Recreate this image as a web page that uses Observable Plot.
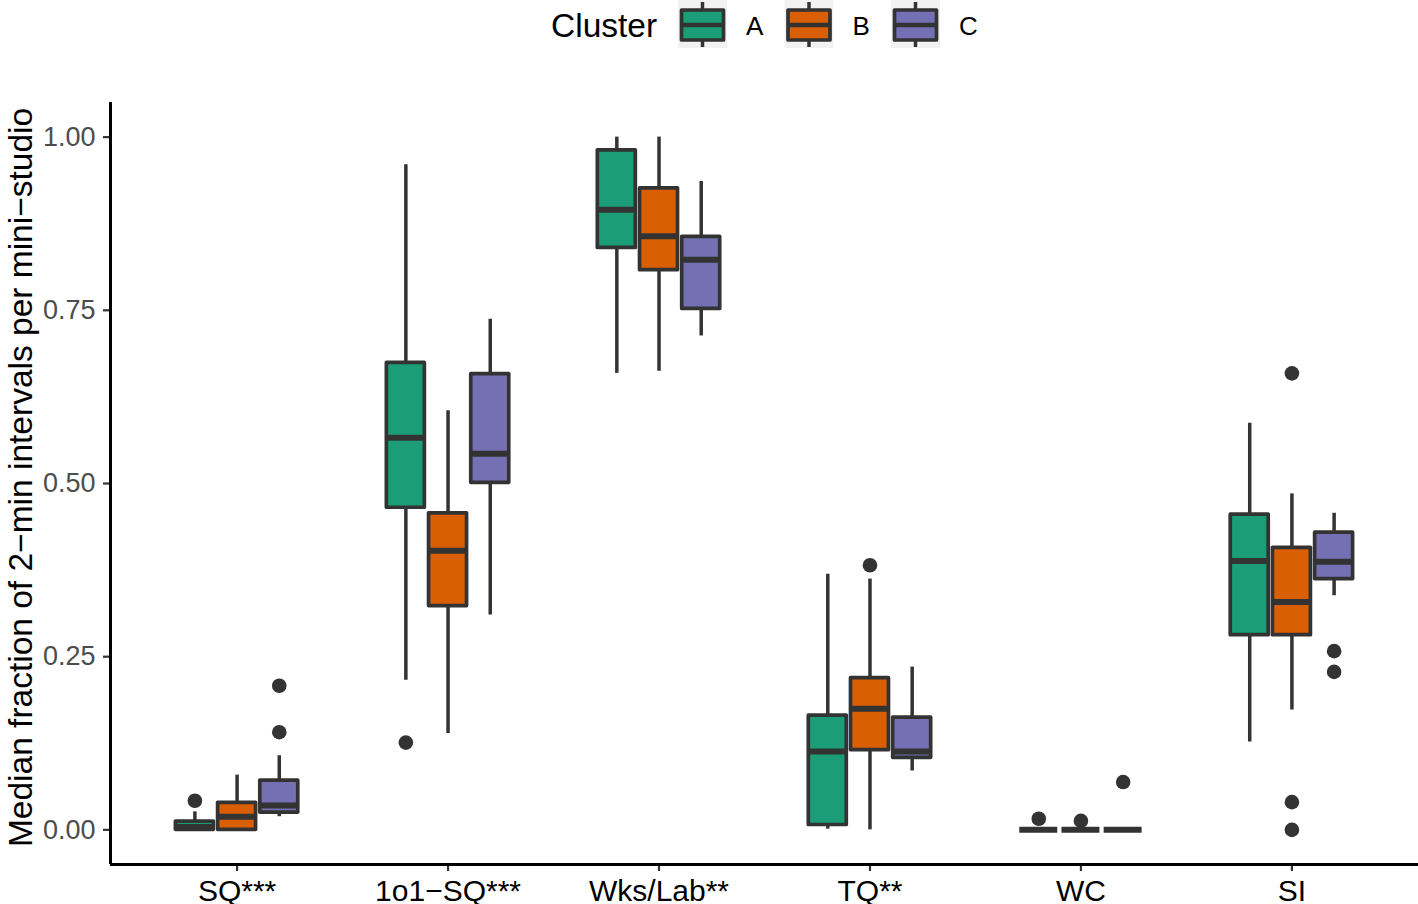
<!DOCTYPE html>
<html><head><meta charset="utf-8">
<script src="https://cdn.jsdelivr.net/npm/d3@7"></script>
<script src="https://cdn.jsdelivr.net/npm/@observablehq/plot@0.6"></script>
<style>
html,body{margin:0;padding:0;background:#fff;}
body{width:1418px;height:904px;overflow:hidden;font-family:"Liberation Sans",Arial,Helvetica,sans-serif;}
svg{display:block;}
</style></head><body>
<div id="legend"></div>
<div id="chart"></div>
<script>
// ---- data ----
const categories = ["SQ***", "1o1\u2212SQ***", "Wks/Lab**", "TQ**", "WC", "SI"];
const clusters = ["A", "B", "C"];
const clusterColors = ["#1B9E77", "#D95F02", "#7570B3"];
const yTicks = [0, 0.25, 0.5, 0.75, 1];

// rows: clusters A, B, C; columns: categories in order
const whiskerLow = [
  [0.000, 0.216, 0.659, 0.001, 0, 0.127],
  [0.000, 0.139, 0.662, 0.000, 0, 0.173],
  [0.019, 0.310, 0.713, 0.085, 0, 0.338]
];
const quartile1 = [
  [0.000, 0.465, 0.840, 0.007, 0, 0.281],
  [0.000, 0.323, 0.808, 0.115, 0, 0.281],
  [0.025, 0.501, 0.752, 0.104, 0, 0.362]
];
const medians = [
  [0.004, 0.566, 0.895, 0.113, 0, 0.388],
  [0.019, 0.403, 0.857, 0.175, 0, 0.329],
  [0.035, 0.543, 0.823, 0.113, 0, 0.387]
];
const quartile3 = [
  [0.012, 0.674, 0.981, 0.165, 0, 0.455],
  [0.039, 0.457, 0.926, 0.219, 0, 0.407],
  [0.071, 0.658, 0.856, 0.162, 0, 0.429]
];
const whiskerHigh = [
  [0.026, 0.960, 1.000, 0.369, 0, 0.587],
  [0.079, 0.605, 1.000, 0.362, 0, 0.485],
  [0.107, 0.737, 0.936, 0.235, 0, 0.457]
];
// outliers: [cluster, category, value]
const outliers = [
  ["A", "SQ***", 0.042], ["A", "1o1\u2212SQ***", 0.126], ["A", "WC", 0.016],
  ["B", "TQ**", 0.382], ["B", "WC", 0.013], ["B", "SI", 0.659], ["B", "SI", 0.040], ["B", "SI", 0.000],
  ["C", "SQ***", 0.208], ["C", "SQ***", 0.141], ["C", "WC", 0.069], ["C", "SI", 0.258], ["C", "SI", 0.228]
];

// ---- build tables ----
const dodge = 0.2, half = 0.09;
const pos = (cat, cl) => categories.indexOf(cat) + (clusters.indexOf(cl) - 1) * dodge;
const boxes = [];
clusters.forEach((cl, j) => categories.forEach((cat, i) => {
  boxes.push({cluster: cl, x: pos(cat, cl), lo: whiskerLow[j][i], q1: quartile1[j][i],
    med: medians[j][i], q3: quartile3[j][i], hi: whiskerHigh[j][i]});
}));
const outs = outliers.map(([cl, cat, v]) => ({cluster: cl, x: pos(cat, cl), y: v}));
const ink = "#333333";

const chart = Plot.plot({
  width: 1418, height: 844,
  marginTop: 42, marginBottom: 40, marginLeft: 110, marginRight: 0,
  style: {fontFamily: '"Liberation Sans", Arial, Helvetica, sans-serif', background: "white", overflow: "visible"},
  x: {domain: [-0.6, 5.6]},
  y: {domain: [-0.05, 1.05]},
  color: {domain: clusters, range: clusterColors},
  marks: [
    Plot.ruleX(boxes, {x: "x", y1: "lo", y2: "hi", stroke: ink, strokeWidth: 3.5}),
    Plot.rect(boxes, {x1: d => d.x - half, x2: d => d.x + half, y1: "q1", y2: "q3",
      fill: "cluster", stroke: ink, strokeWidth: 3.7, strokeLinejoin: "round"}),
    Plot.ruleY(boxes, {y: "med", x1: d => d.x - half, x2: d => d.x + half, stroke: ink, strokeWidth: 6}),
    Plot.dot(outs, {x: "x", y: "y", r: 7.3, fill: ink, stroke: null}),
    Plot.axisY({ticks: yTicks, tickFormat: d3.format(".2f"), tickSize: 7, tickPadding: 8,
      stroke: ink, strokeWidth: 2.2, fill: "#4D4D4D", fontSize: 27, label: null}),
    Plot.axisX({ticks: categories.map((_, i) => i), tickFormat: i => categories[i], tickSize: 7, tickPadding: 8,
      stroke: ink, strokeWidth: 2.2, fill: "#000", fontSize: 30, label: null}),
    Plot.ruleX([-0.6], {stroke: "#000", strokeWidth: 3}),
    Plot.ruleY([-0.05], {stroke: "#000", strokeWidth: 3}),
    Plot.text(["Median fraction of 2\u2212min intervals per mini\u2212studio"], {
      frameAnchor: "left", rotate: -90, dx: -79, dy: -6, lineAnchor: "bottom", textAnchor: "middle",
      fontSize: 33.5, fill: "#000"})
  ]
});
document.getElementById("chart").appendChild(chart);

// ---- legend ----
const ns = "http://www.w3.org/2000/svg";
const lg = d3.select("#legend").append("svg").attr("xmlns", ns).attr("width", 1418).attr("height", 60)
  .style("font-family", '"Liberation Sans", Arial, Helvetica, sans-serif');
lg.append("text").attr("x", 551).attr("y", 37).attr("font-size", 33.5).attr("fill", "#000").text("Cluster");
clusters.forEach((cl, i) => {
  const x0 = 678 + 106.5 * i;
  const g = lg.append("g").attr("transform", `translate(${x0},0)`);
  g.append("rect").attr("x", 0).attr("y", 0).attr("width", 49).attr("height", 48).attr("fill", "#F2F2F2");
  g.append("line").attr("x1", 24.5).attr("x2", 24.5).attr("y1", 2).attr("y2", 47).attr("stroke", ink).attr("stroke-width", 3.5);
  g.append("rect").attr("x", 3.5).attr("y", 10).attr("width", 42).attr("height", 30)
    .attr("fill", clusterColors[i]).attr("stroke", ink).attr("stroke-width", 3.7).attr("stroke-linejoin", "round");
  g.append("line").attr("x1", 3.5).attr("x2", 45.5).attr("y1", 25).attr("y2", 25).attr("stroke", ink).attr("stroke-width", 4.5);
  lg.append("text").attr("x", x0 + 68).attr("y", 35).attr("font-size", 26).attr("fill", "#000").text(cl);
});
</script>
</body></html>
